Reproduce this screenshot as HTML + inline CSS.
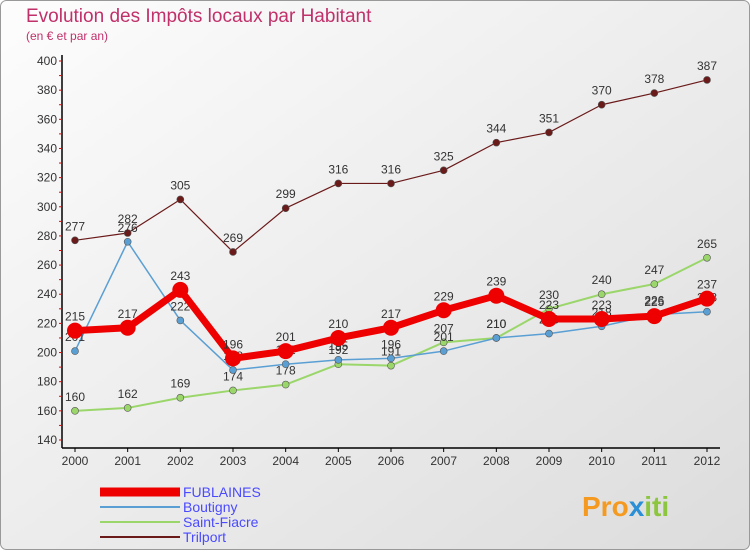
<!DOCTYPE html>
<html><head><meta charset="utf-8"><style>
body{margin:0;width:750px;height:550px;overflow:hidden;font-family:"Liberation Sans",sans-serif}
</style></head><body>
<svg width="750" height="550" xmlns="http://www.w3.org/2000/svg">
<defs><linearGradient id="bg" x1="0" y1="0" x2="1" y2="1"><stop offset="0" stop-color="#fdfdfd"/><stop offset="1" stop-color="#dcdcdc"/></linearGradient></defs>
<rect x="0.5" y="0.5" width="749" height="549" rx="6" fill="url(#bg)" stroke="#999"/>
<text x="26" y="22" font-size="19" fill="#c0306a">Evolution des Impôts locaux par Habitant</text>
<text x="26" y="40" font-size="12" fill="#c0306a">(en € et par an)</text>
<g id="axes"></g><g id="series"></g><g id="legend"></g>
<text x="582" y="516" font-size="28" font-weight="bold" fill="#f59a20">Pro<tspan fill="#2a8fd6">x</tspan><tspan fill="#8cc63f">iti</tspan></text>
</svg>
<script>
const years=[2000,2001,2002,2003,2004,2005,2006,2007,2008,2009,2010,2011,2012];
const yTicks=[140,160,180,200,220,240,260,280,300,320,340,360,380,400];
const fublaines=[215,217,243,196,201,210,217,229,239,223,223,225,237];
const boutigny=[201,276,222,188,192,195,196,201,210,213,218,226,228];
const saintFiacre=[160,162,169,174,178,192,191,207,210,230,240,247,265];
const trilport=[277,282,305,269,299,316,316,325,344,351,370,378,387];
const NS="http://www.w3.org/2000/svg";
const X=i=>75+i*(707-75)/(years.length-1);
const Y=v=>440-(v-140)*(440-61)/(400-140);
function mk(t,a,p){const e=document.createElementNS(NS,t);for(const k in a)e.setAttribute(k,a[k]);p.appendChild(e);return e;}
const ax=document.getElementById('axes');
let yl=mk('line',{x1:62,y1:55,x2:62,y2:448,stroke:'#000','stroke-width':1.5},ax);


let xl=mk('line',{x1:62,y1:448,x2:720,y2:448,stroke:'#000','stroke-width':1.5},ax);


yTicks.forEach((v,i)=>{
 const t=mk('text',{x:57,y:Y(v)+4,'font-size':12,'text-anchor':'end',fill:'#333'},ax);t.textContent=v;
 
 
 mk('line',{x1:59,y1:Y(v),x2:62,y2:Y(v),stroke:'#e00'},ax);
 if(i<yTicks.length-1)mk('line',{x1:59,y1:Y(v+10),x2:62,y2:Y(v+10),stroke:'#e00'},ax);
});
years.forEach((y,i)=>{
 mk('line',{x1:X(i),y1:448,x2:X(i),y2:452,stroke:'#000'},ax);
 const t=mk('text',{x:X(i),y:465,'font-size':12,'text-anchor':'middle',fill:'#333'},ax);t.textContent=y;
 
 
});
const sg=document.getElementById('series');
const defs=[
 {d:trilport,c:'#6b1a1a',w:1.2,r:3.5,n:'trilport'},
 {d:saintFiacre,c:'#9ad66a',w:2,r:3.5,n:'saint-fiacre'},
 {d:boutigny,c:'#5a9fd4',w:1.5,r:3.5,n:'boutigny'},
 {d:fublaines,c:'#ee0000',w:7,r:8,n:'fublaines'}];
defs.forEach(s=>{
 const g=mk('g',{},sg);
 
 
 const p=mk('polyline',{points:s.d.map((v,i)=>X(i)+','+Y(v)).join(' '),fill:'none',stroke:s.c,'stroke-width':s.w,'stroke-linejoin':'round'},g);
 s.d.forEach((v,i)=>{
  const c=mk('circle',{cx:X(i),cy:Y(v),r:s.r,fill:s.c,stroke:s.n=='fublaines'?'#e00':'#555','stroke-width':s.n=='fublaines'?0:0.6},g);
  
  
  const t=mk('text',{x:X(i),y:Y(v)-10,'font-size':12,'text-anchor':'middle',fill:'#333'},g);t.textContent=v;
  
  
 });
});
const lg=document.getElementById('legend');
const leg=[['FUBLAINES','#ee0000',9],['Boutigny','#5a9fd4',2],['Saint-Fiacre','#9ad66a',2],['Trilport','#6b1a1a',2]];
leg.forEach((l,i)=>{
 const y=492+i*15;
 const g=mk('g',{},lg);
 
 
 mk('line',{x1:100,y1:y,x2:180,y2:y,stroke:l[1],'stroke-width':l[2]},g);
 const t=mk('text',{x:183,y:y+5,'font-size':14,fill:'#4a4aff'},g);t.textContent=l[0];
});
</script>
</body></html>
